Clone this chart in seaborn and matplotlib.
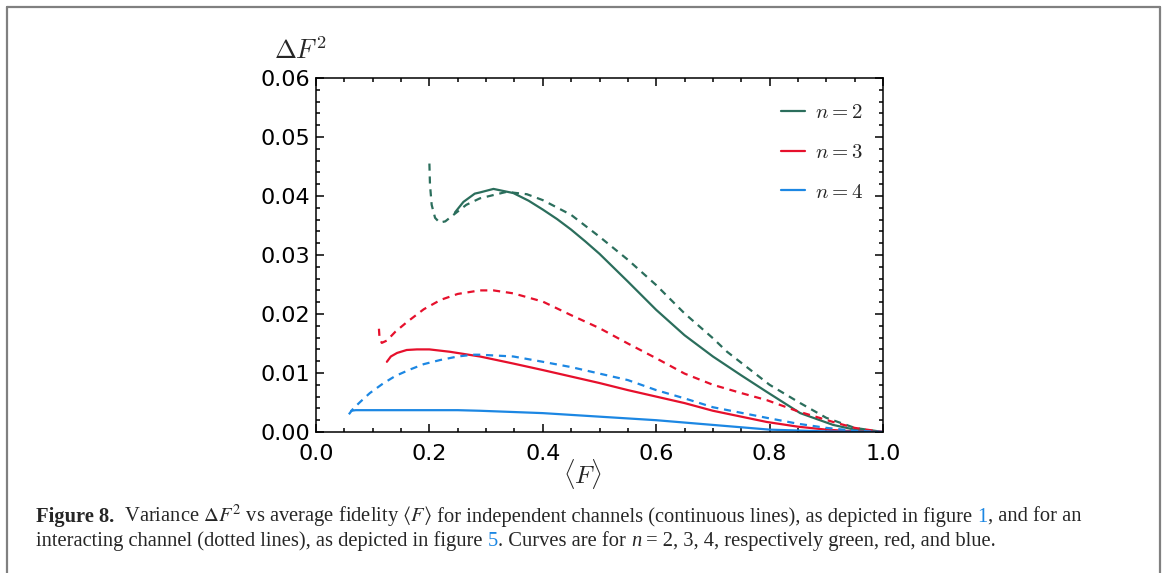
import pandas as pd
import matplotlib.pyplot as plt
import seaborn as sns
from matplotlib.lines import Line2D

# n = 2, independent channels (solid)
f2_ind = [0.245, 0.26, 0.28, 0.289, 0.313, 0.348, 0.375, 0.40, 0.425, 0.45, 0.475, 0.50, 0.55,
          0.60, 0.65, 0.70, 0.75, 0.795, 0.854, 0.912, 0.95, 1.0]
v2_ind = [0.0372, 0.0390, 0.0404, 0.0406, 0.0412, 0.0405, 0.0392, 0.0377, 0.0361, 0.0343, 0.0323,
          0.0302, 0.0255, 0.0207, 0.0164, 0.0128, 0.0096, 0.0068, 0.0032, 0.0012, 0.0004, 0.0]
# n = 2, interacting channel (dotted)
f2_int = [0.200, 0.201, 0.204, 0.210, 0.218, 0.228, 0.245, 0.265, 0.289, 0.336, 0.372, 0.40,
          0.45, 0.50, 0.55, 0.60, 0.65, 0.70, 0.725, 0.80, 0.854, 0.90, 0.95, 1.0]
v2_int = [0.0455, 0.0420, 0.0385, 0.0363, 0.0355, 0.0357, 0.0370, 0.0385, 0.0396, 0.0407, 0.0403,
          0.0393, 0.0368, 0.0331, 0.0292, 0.0249, 0.0201, 0.0159, 0.0136, 0.0080, 0.0049, 0.0024,
          0.0007, 0.0]
# n = 3
f3_ind = [0.125, 0.132, 0.143, 0.16, 0.178, 0.20, 0.236, 0.289, 0.348, 0.40, 0.45, 0.50, 0.55,
          0.60, 0.65, 0.70, 0.75, 0.795, 0.85, 0.90, 0.95, 1.0]
v3_ind = [0.0119, 0.0128, 0.0134, 0.0139, 0.0140, 0.0140, 0.0136, 0.0128, 0.0116, 0.0105, 0.0094,
          0.0083, 0.0071, 0.0060, 0.0049, 0.0036, 0.0026, 0.0017, 0.0009, 0.0004, 0.0001, 0.0]
f3_int = [0.111, 0.112, 0.116, 0.125, 0.14, 0.16, 0.19, 0.22, 0.25, 0.289, 0.313, 0.348, 0.40,
          0.45, 0.50, 0.55, 0.60, 0.65, 0.70, 0.75, 0.795, 0.85, 0.912, 0.95, 1.0]
v3_int = [0.0175, 0.0160, 0.0151, 0.0155, 0.0170, 0.0186, 0.0208, 0.0224, 0.0234, 0.0240, 0.0240,
          0.0235, 0.0221, 0.0198, 0.0176, 0.0150, 0.0125, 0.0099, 0.0080, 0.0066, 0.0054, 0.0035,
          0.0017, 0.0007, 0.0]
# n = 4
f4_ind = [0.062, 0.07, 0.10, 0.15, 0.20, 0.25, 0.289, 0.40, 0.50, 0.60, 0.70, 0.80, 0.90, 1.0]
v4_ind = [0.0036, 0.0037, 0.0037, 0.0037, 0.0037, 0.0037, 0.0036, 0.0032, 0.0026, 0.0020, 0.0012,
          0.0004, 0.0001, 0.0]
f4_int = [0.058, 0.066, 0.078, 0.095, 0.118, 0.14, 0.166, 0.19, 0.219, 0.25, 0.277, 0.289, 0.348,
          0.40, 0.45, 0.50, 0.55, 0.60, 0.65, 0.70, 0.795, 0.85, 0.90, 0.95, 1.0]
v4_int = [0.0030, 0.0040, 0.0051, 0.0066, 0.0082, 0.0095, 0.0106, 0.0115, 0.0122, 0.0128, 0.0131,
          0.0131, 0.0128, 0.0119, 0.0110, 0.0099, 0.0088, 0.0071, 0.0057, 0.0042, 0.0024, 0.0014,
          0.0007, 0.0002, 0.0]

n_values = [2, 3, 4]
colors = {2: '#2b6e5c', 3: '#e6102c', 4: '#1c87e3'}

sns.set_style('ticks')
plt.rcParams['font.family'] = ['DejaVu Sans']
plt.rcParams['mathtext.fontset'] = 'cm'

W, H = 1165, 573
fig = plt.figure(figsize=(11.65, 5.73), dpi=100)
ax = fig.add_axes([316 / W, 1 - 432 / H, 567 / W, 354 / H])

curves = [
    (2, f2_int, v2_int, True), (2, f2_ind, v2_ind, False),
    (3, f3_int, v3_int, True), (3, f3_ind, v3_ind, False),
    (4, f4_int, v4_int, True), (4, f4_ind, v4_ind, False),
]
for n, xs, ys, dotted in curves:
    df = pd.DataFrame({'F': xs, 'var': ys})
    ls = (0, (3.2, 2.6)) if dotted else '-'
    sns.lineplot(data=df, x='F', y='var', ax=ax, color=colors[n], linestyle=ls,
                 linewidth=1.6, sort=False, estimator=None)

ax.set_xlim(0, 1.0)
ax.set_ylim(0, 0.06)
ax.set_xticks([0.0, 0.2, 0.4, 0.6, 0.8, 1.0])
ax.set_xticks([i * 0.05 for i in range(21)], minor=True)
ax.set_yticks([0.0, 0.01, 0.02, 0.03, 0.04, 0.05, 0.06])
ax.set_yticks([i * 0.002 for i in range(31)], minor=True)
ax.set_xticklabels(['0.0', '0.2', '0.4', '0.6', '0.8', '1.0'])
ax.set_yticklabels(['0.00', '0.01', '0.02', '0.03', '0.04', '0.05', '0.06'])
ax.tick_params(which='both', direction='in', top=True, right=True, width=1.1, colors='black',
               labelsize=16)
ax.tick_params(which='major', length=5.5)
ax.tick_params(axis='y', which='major', pad=4)
ax.tick_params(axis='x', which='major', pad=9)
ax.tick_params(which='minor', length=3.2)
for sp in ax.spines.values():
    sp.set_linewidth(1.1)
    sp.set_color('black')

ax.set_xlabel(r'$\langle F\rangle$', fontsize=18)
ax.xaxis.set_label_coords((583 - 316) / 567, -(457 - 432) / 354)
ax.set_ylabel('')
fig.text(300 / W, 1 - 52 / H, r'$\Delta F^2$', fontsize=19, ha='center', va='center')

handles = [Line2D([0], [0], color=colors[n], linewidth=1.6) for n in n_values]
labels = [rf'$n = {n}$' for n in n_values]
ax.legend(handles, labels, loc='upper right', bbox_to_anchor=(0.997, 0.985), frameon=False,
          fontsize=15, handlelength=1.15, handletextpad=0.45, labelspacing=0.95)

# caption, laid out piece by piece on a common baseline
cap_font = dict(family='Liberation Serif', fontsize=14.75, math_fontfamily='stix')
renderer = fig.canvas.get_renderer()

def caption_line(y_px, pieces):
    x = 36 / W
    for s, kw in pieces:
        opts = dict(cap_font)
        opts.update(kw)
        t = fig.text(x, 1 - y_px / H, s, va='baseline', ha='left', **opts)
        bb = t.get_window_extent(renderer=renderer)
        x = fig.transFigure.inverted().transform((bb.x1, bb.y0))[0]

caption_line(522, [
    ('Figure 8.', dict(fontweight='bold')),
    ('  Variance $\\Delta F^2$ vs average fidelity $\\langle F\\rangle$', {}),
    (' for independent channels (continuous lines), as depicted in figure ', {}),
    ('1', dict(color='#1c87e3')),
    (', and for an', {}),
])
caption_line(546, [
    ('interacting channel (dotted lines), as depicted in figure ', {}),
    ('5', dict(color='#1c87e3')),
    ('. Curves are for ', {}),
    ('n', dict(style='italic')),
    (' = 2, 3, 4, respectively green, red, and blue.', {}),
])

# grey frame around figure + caption (open at the bottom)
frame = dict(color='#808080', linewidth=1.6, transform=fig.transFigure)
fig.add_artist(Line2D([7 / W, 7 / W], [0, 1 - 7 / H], **frame))
fig.add_artist(Line2D([1160 / W, 1160 / W], [0, 1 - 7 / H], **frame))
fig.add_artist(Line2D([7 / W, 1160 / W], [1 - 7 / H, 1 - 7 / H], **frame))

fig.savefig('out.png', dpi=100)
